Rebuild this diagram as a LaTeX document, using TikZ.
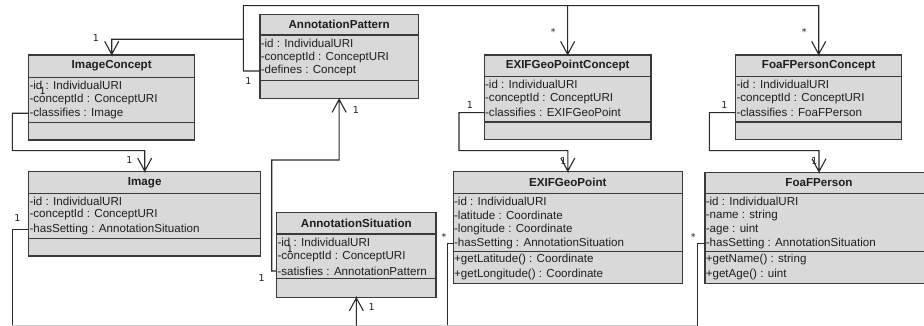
\documentclass[tikz,border=0pt]{standalone}
\usepackage{fontspec}
\setmainfont{Liberation Sans}
\newfontfamily\multfont{DejaVu Sans}
\usetikzlibrary{fit}

\definecolor{boxfill}{HTML}{D9D9D9}
\definecolor{boxline}{HTML}{3A3A3A}
\definecolor{ink}{HTML}{1E1E1E}
\definecolor{wire}{HTML}{2A2A2A}
\definecolor{buswire}{HTML}{D0D0D0}

\tikzset{
  classbody/.style={draw=boxline, fill=boxfill, line width=1.3pt, inner sep=0pt},
  classline/.style={draw=boxline, line width=1.3pt},
  classtitle/.style={font=\fontsize{11.6}{14}\selectfont\bfseries, text=ink, inner sep=0pt},
  attr/.style={font=\fontsize{11.6}{14}\selectfont, text=ink, anchor=west, inner xsep=0.6pt, inner ysep=0pt},
  mult/.style={font=\multfont\fontsize{9.5}{11}\selectfont, text=ink, inner sep=0pt},
  assoc/.style={draw=wire, line width=1.1pt}
}

% name, left, top, right, bottom, header bottom, attributes bottom, title
\newcommand{\umlclass}[8]{%
  \node[classbody, fit={(#2,#3) (#4,#5)}] (#1) {};
  \draw[classline] (#2,#6) -- (#4,#6);
  \draw[classline] (#2,#7) -- (#4,#7);
  \node[classtitle] (#1-title) at ({(#2+#4)/2},{(#3+#6)/2}) {#8};
}

\begin{document}
\begin{tikzpicture}[x=1pt,y=-1pt]
\useasboundingbox (0,0) rectangle (924,326);
\clip (0,0) rectangle (924,326);

% ---- classes ----
\umlclass{ic}{28.7}{55}{194.7}{140}{77.3}{122.3}{ImageConcept}
\node[attr] (ic-1) at (28.7,85)   {-id : IndividualURI};
\node[attr] (ic-2) at (28.7,99.2) {-conceptId : ConceptURI};
\node[attr] (ic-3) at (28.7,113.3){-classifies : Image};

\umlclass{ap}{260}{14.7}{418.3}{98.7}{35}{80.3}{AnnotationPattern}
\node[attr] (ap-1) at (260,43.3) {-id : IndividualURI};
\node[attr] (ap-2) at (260,57.3) {-conceptId : ConceptURI};
\node[attr] (ap-3) at (260,71)   {-defines : Concept};

\umlclass{egc}{484.3}{55}{651}{139.5}{76.7}{122}{EXIFGeoPointConcept}
\node[attr] (egc-1) at (484.3,84.3)  {-id : IndividualURI};
\node[attr] (egc-2) at (484.3,98.7)  {-conceptId : ConceptURI};
\node[attr] (egc-3) at (484.3,112.7) {-classifies : EXIFGeoPoint};

\umlclass{fpc}{735.7}{55}{901.7}{139.5}{76.7}{122}{FoaFPersonConcept}
\node[attr] (fpc-1) at (735.7,84.3)  {-id : IndividualURI};
\node[attr] (fpc-2) at (735.7,98.7)  {-conceptId : ConceptURI};
\node[attr] (fpc-3) at (735.7,112.7) {-classifies : FoaFPerson};

\umlclass{im}{28.7}{171.7}{260.7}{256}{193.7}{238.7}{Image}
\node[attr] (im-1) at (28.7,201.3) {-id : IndividualURI};
\node[attr] (im-2) at (28.7,215)   {-conceptId : ConceptURI};
\node[attr] (im-3) at (28.7,229.3) {-hasSetting : AnnotationSituation};

\umlclass{as}{276.7}{212.7}{436}{297.3}{234}{278.3}{AnnotationSituation}
\node[attr] (as-1) at (276.7,242.3) {-id : IndividualURI};
\node[attr] (as-2) at (276.7,257)   {-conceptId : ConceptURI};
\node[attr] (as-3) at (276.7,271)   {-satisfies : AnnotationPattern};

\umlclass{eg}{453.3}{171.7}{682.3}{283.3}{193.3}{251.7}{EXIFGeoPoint}
\node[attr] (eg-1) at (453.3,201.3) {-id : IndividualURI};
\node[attr] (eg-2) at (453.3,215.3) {-latitude : Coordinate};
\node[attr] (eg-3) at (453.3,229.3) {-longitude : Coordinate};
\node[attr] (eg-4) at (453.3,243.3) {-hasSetting : AnnotationSituation};
\node[attr] (eg-5) at (453.3,260)   {+getLatitude() : Coordinate};
\node[attr] (eg-6) at (453.3,274.3) {+getLongitude() : Coordinate};

\umlclass{fp}{705}{172.3}{933}{283.3}{193.3}{251.7}{FoaFPerson}
\node[attr] (fp-1) at (705,201.3) {-id : IndividualURI};
\node[attr] (fp-2) at (705,215.3) {-name : string};
\node[attr] (fp-3) at (705,229.3) {-age : uint};
\node[attr] (fp-4) at (705,243.3) {-hasSetting : AnnotationSituation};
\node[attr] (fp-5) at (705,260)   {+getName() : string};
\node[attr] (fp-6) at (705,274.3) {+getAge() : uint};

% ---- routing points ----
\coordinate (topbus)  at (243.3,5.7);
\coordinate (icbranch) at (243.3,39.3);
\coordinate (icturn)  at (12.3,150.7);
\coordinate (egcturn) at (459,150.7);
\coordinate (fpcturn) at (709.3,150.7);
\coordinate (asturn)  at (271.7,160);
\coordinate (imdown)  at (12.3,325.6);
\coordinate (egdown)  at (447.3,325.6);
\coordinate (fpdown)  at (697.3,325.6);

% ---- associations, each ending in an open navigation head ----
\draw[assoc] (ap-3.west) -| (topbus) -| (fpc.north) -- ++(-7,-13) (fpc.north) -- ++(7,-13);
\draw[assoc] (topbus -| egc.north) -- (egc.north) -- ++(-7,-13) (egc.north) -- ++(7,-13);
\draw[assoc] (icbranch) -| (ic.north) -- ++(-7,-13) (ic.north) -- ++(7,-13);

\draw[assoc] (ic-3.west) -| (icturn) -| (im.north) -- ++(-7,-13) (im.north) -- ++(7,-13);
\draw[assoc] (egc-3.west) -| (egcturn) -| (eg.north) -- ++(-7,-13) (eg.north) -- ++(7,-13);
\draw[assoc] (fpc-3.west) -| (fpcturn) -| (fp.north) -- ++(-7,-13) (fp.north) -- ++(7,-13);
\draw[assoc] (as-3.west) -| (asturn) -| (ap.south) -- ++(-7,13) (ap.south) -- ++(7,13);

\draw[assoc] (im-3.west) -| (imdown);
\draw[assoc] (eg-4.west) -| (egdown);
\draw[assoc] (fp-4.west) -| (fpdown);
\draw[draw=buswire, line width=1pt] (imdown) -- (fpdown);
\draw[assoc] (as.south |- imdown) -- (as.south) -- ++(-7,13) (as.south) -- ++(7,13);

% ---- multiplicities ----
\node[mult] (m1)  at (96,37.7)    {1};
\node[mult] (m2)  at (42.7,90.7)  {1};
\node[mult] (m3)  at (129.3,160.5){1};
\node[mult] (m4)  at (248.3,81)   {1};
\node[mult] (m5)  at (356,110)    {1};
\node[mult] (m6)  at (261.7,277.7){1};
\node[mult] (m7)  at (290,249)    {1};
\node[mult] (m8)  at (371.7,307.3){1};
\node[mult] (m9)  at (17.3,218.3) {1};
\node[mult] (m10) at (553.3,32.3) {*};
\node[mult] (m11) at (804.3,32.3) {*};
\node[mult] (m12) at (470,105.3)  {1};
\node[mult] (m13) at (563.3,160.7){1};
\node[mult] (m14) at (724.3,105.3){1};
\node[mult] (m15) at (814.3,160.7){1};
\node[mult] (m16) at (444,236.7)  {*};
\node[mult] (m17) at (693.3,236.7){*};
\end{tikzpicture}
\end{document}
